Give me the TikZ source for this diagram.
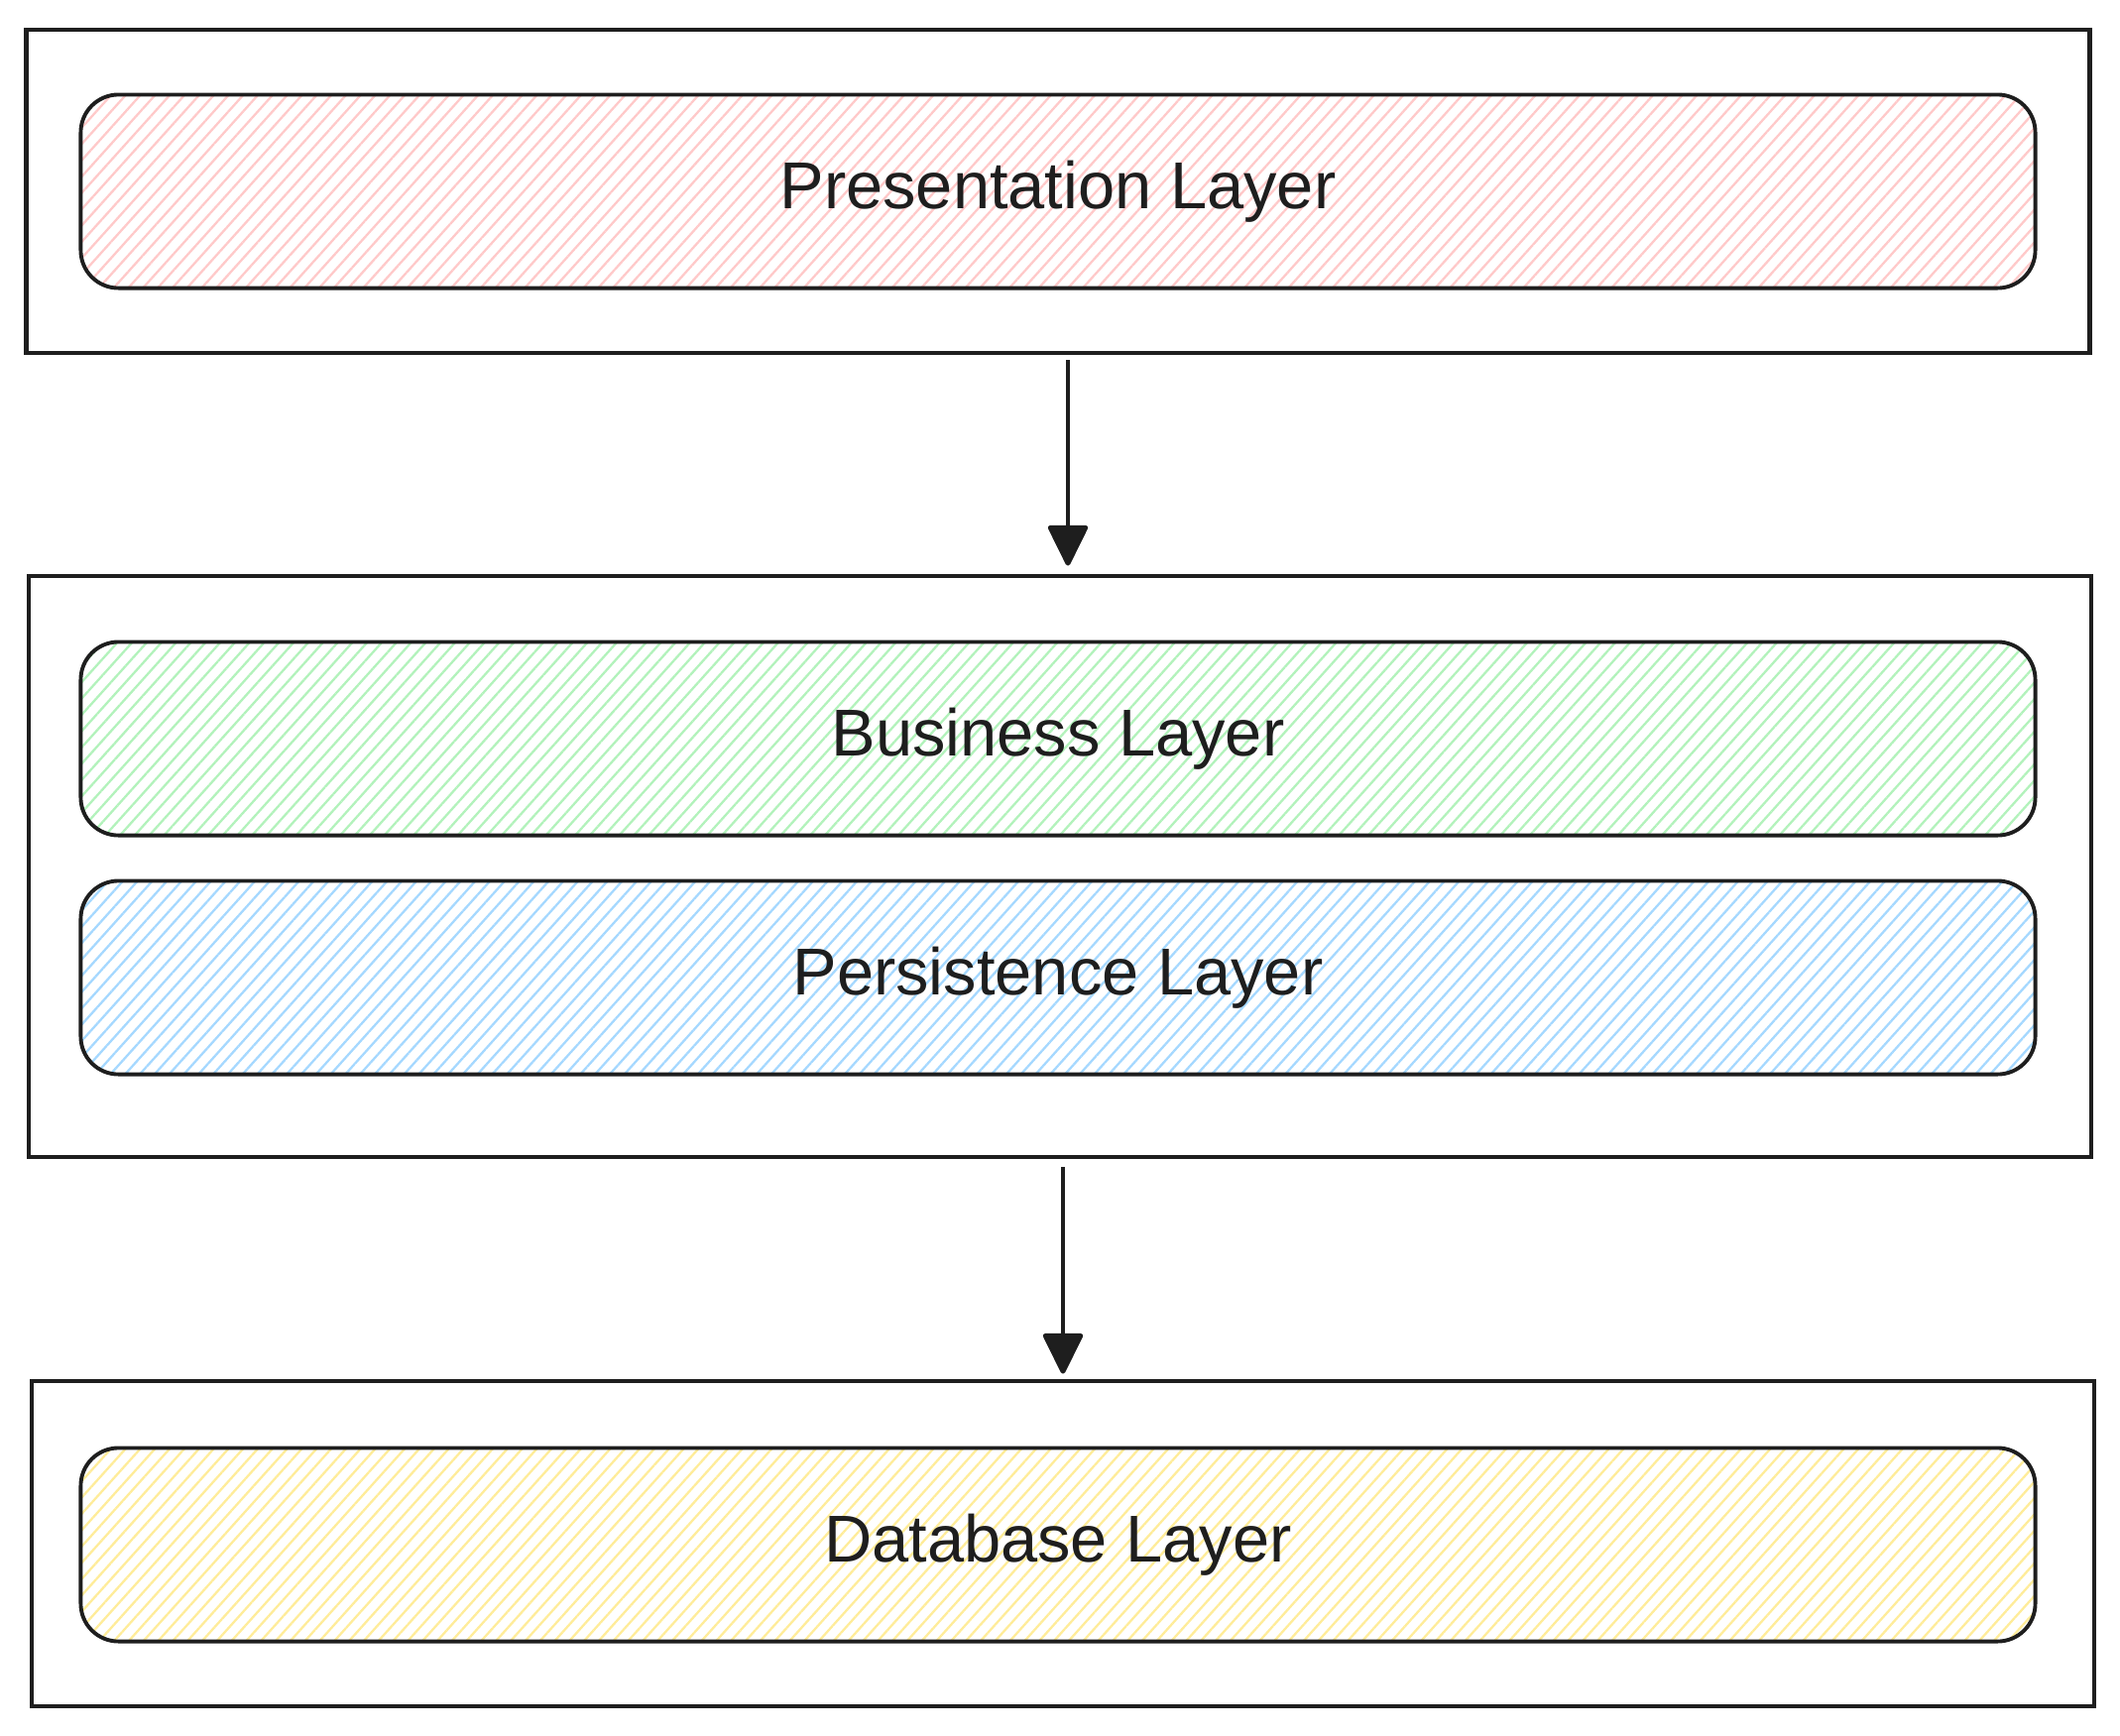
\documentclass[tikz,border=0pt]{standalone}
\usepackage{fontspec}
\setmainfont{Liberation Sans}
\usetikzlibrary{arrows.meta,positioning,patterns.meta}
\definecolor{ink}{HTML}{1e1e1e}
\definecolor{redfill}{HTML}{ffc9c9}
\definecolor{greenfill}{HTML}{b2f2bb}
\definecolor{bluefill}{HTML}{a5d8ff}
\definecolor{yellowfill}{HTML}{ffec99}
\tikzset{tier/.style={draw=ink, line width=1.3pt, inner sep=0pt},
         layer/.style={draw=ink, rounded corners=0.38cm, line width=1.1pt, minimum width=19.7cm, minimum height=1.95cm, font=\fontsize{19}{23}\selectfont, text=ink, pattern={Lines[angle=48,distance=0.11cm,line width=0.65pt]}},
         arr/.style={-{Triangle[length=0.44cm,width=0.42cm,round]}, line width=1.4pt, ink}}

\begin{document}
\begin{tikzpicture}[x=0.01cm, y=-0.01cm]
\useasboundingbox (0,0) rectangle (2138,1750);
% outer tiers
\node[tier, minimum width=20.8cm, minimum height=3.26cm] (t1) at (1067,193) {};
\node[tier, minimum width=20.79cm, minimum height=5.86cm] (t2) at (1069,874) {};
\node[tier, minimum width=20.79cm, minimum height=3.28cm] (t3) at (1072,1557) {};
% layers
\node[layer, pattern color=redfill] (pres) at (1067,193) {Presentation Layer};
\node[layer, pattern color=greenfill] (bus) at (1067,745) {Business Layer};
\node[layer, pattern color=bluefill, below=0.42cm of bus] (pers) {Persistence Layer};
\node[layer, pattern color=yellowfill] (db) at (1067,1558) {Database Layer};
% flow
\draw[arr, shorten <=0.05cm, shorten >=0.08cm] ([xshift=0.1cm]t1.south) -- ([xshift=0.1cm]t1.south |- t2.north);
\draw[arr, shorten <=0.08cm, shorten >=0.05cm] ([xshift=0.03cm]t2.south) -- ([xshift=0.03cm]t2.south |- t3.north);
\end{tikzpicture}
\end{document}
